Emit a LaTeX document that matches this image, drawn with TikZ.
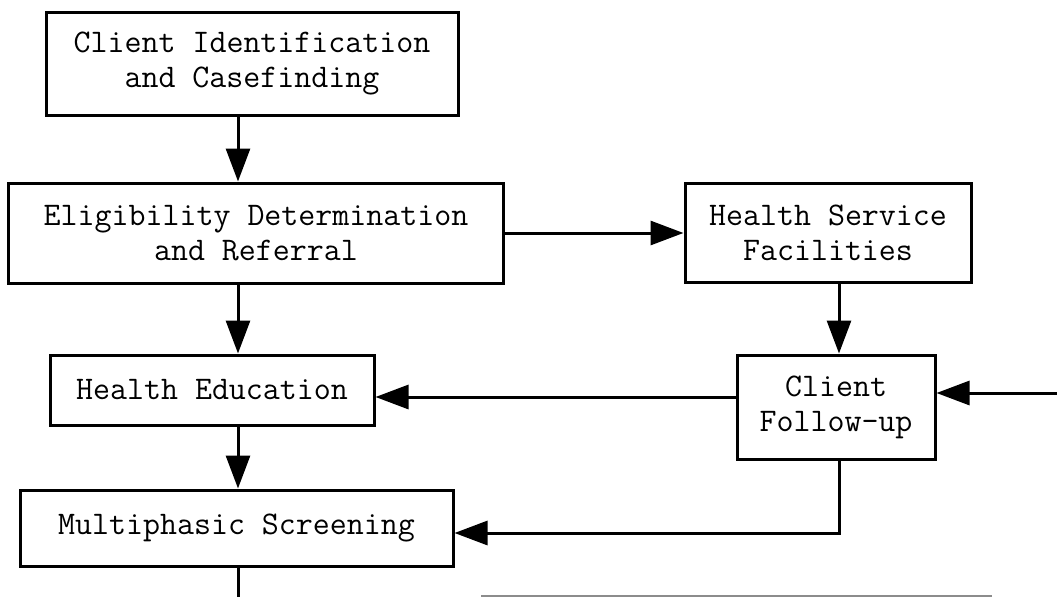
\documentclass[tikz,border=0pt]{standalone}
\usetikzlibrary{arrows.meta}
\begin{document}
\begin{tikzpicture}[x=1pt,y=-1pt,
  box/.style={draw, line width=3pt, inner sep=0pt, align=center,
    font=\ttfamily\fontsize{33}{35}\selectfont},
  conn/.style={line width=3pt, -{Triangle[length=33pt,width=24pt]}},
  plainline/.style={line width=3pt},
  faint/.style={line width=1.2pt, draw=black!45}]
\fill[white] (0,0) rectangle (1057,597);
\useasboundingbox (0,0) rectangle (1057,597);
\node[box, minimum width=412pt, minimum height=103pt] (b1) at (252,63.5) {Client Identification\\and Casefinding};
\node[box, minimum width=495pt, minimum height=100pt] (b2) at (256,233) {Eligibility Determination\\and Referral};
\node[box, minimum width=286pt, minimum height=99pt] (b3) at (828,232.5) {Health Service\\Facilities};
\node[box, minimum width=324pt, minimum height=70pt] (b4) at (212,390) {Health Education};
\node[box, minimum width=198pt, minimum height=104pt] (b5) at (836,407) {Client\\Follow-up};
\node[box, minimum width=433pt, minimum height=76pt] (b6) at (236.5,528) {Multiphasic Screening};
\coordinate (vl) at (238,0);
\coordinate (vr) at (839,0);
\coordinate (h45) at (0,397);
\coordinate (in5) at (1057,393);
\coordinate (h56) at (0,533);
\coordinate (bend) at (839,533);
\coordinate (down6) at (238,597);
\coordinate (g1) at (481,596);
\coordinate (g2) at (992,596);
\draw[conn] (b1.south -| vl) -- (b2.north -| vl);
\draw[conn] (b2.south -| vl) -- (b4.north -| vl);
\draw[conn] (b4.south -| vl) -- (b6.north -| vl);
\draw[conn] (b2.east) -- (b3.west |- b2.east);
\draw[conn] (b3.south -| vr) -- (b5.north -| vr);
\draw[conn] (b5.west |- h45) -- (b4.east |- h45);
\draw[conn] (in5) -- (b5.east |- in5);
\draw[conn] (b5.south -| vr) -- (bend) -- (b6.east |- h56);
\draw[plainline] (b6.south -| vl) -- (down6);
\draw[faint] (g1) -- (g2);
\end{tikzpicture}
\end{document}
